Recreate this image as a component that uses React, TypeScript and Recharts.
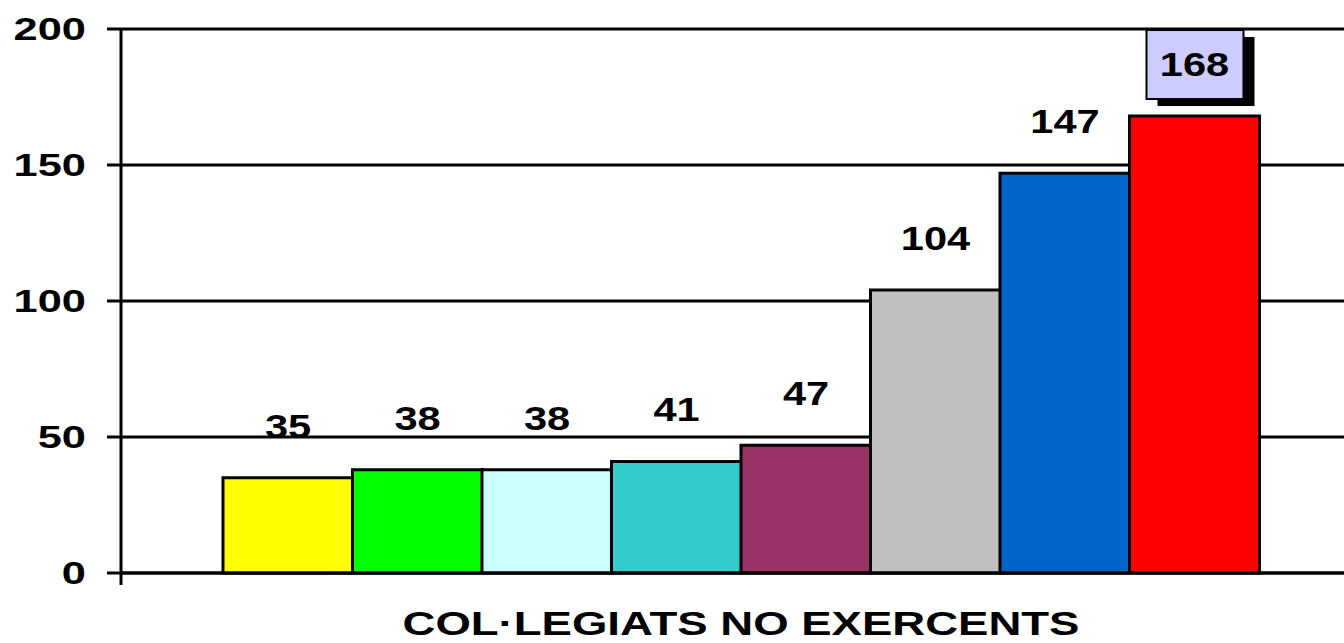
import React from "react";
import { BarChart, Bar, XAxis, YAxis, CartesianGrid, Cell, LabelList } from "recharts";

const categories = ["A", "B", "C", "D", "E", "F", "G", "H"];
const values = [35, 38, 38, 41, 47, 104, 147, 168];
const colors = ["#FFFF00", "#00FF00", "#CCFFFF", "#33CCCC", "#993366", "#C0C0C0", "#0066CC", "#FF0000"];
const yTicks = [0, 50, 100, 150, 200];
const axisTitle = "COL·LEGIATS NO EXERCENTS";

const data = categories.map((c, i) => ({ name: c, value: values[i] }));
const maxValue = Math.max(...values);

const FONT = "'Liberation Sans', Arial, Helvetica, sans-serif";
const TICK_SIZE = 14;
const TICK_MARGIN = 21;
const PAD_LEFT = 102;
const PAD_RIGHT = 85;

const YTick = (props: any) => {
  const { x, y, payload } = props;
  const axisX = x + TICK_SIZE + TICK_MARGIN;
  return (
    <g>
      {payload.value === 0 && (
        <line x1={axisX} x2={axisX} y1={y} y2={y + 12} stroke="#000" strokeWidth={3} />
      )}
      <text
        transform={`translate(${x},${y + 11}) scale(1.4,1)`}
        textAnchor="end"
        fontFamily={FONT}
        fontWeight="bold"
        fontSize={31}
        fill="#000"
      >
        {payload.value}
      </text>
    </g>
  );
};

const ValueLabel = (props: any) => {
  const { x, y, width, value } = props;
  const cx = x + width / 2;
  const cy = y - 52;
  const isMax = value === maxValue;
  return (
    <g>
      {isMax && (
        <g>
          <rect x={cx - 48 + 11} y={cy - 34 + 7} width={97} height={69} fill="#000" />
          <rect x={cx - 48} y={cy - 34} width={97} height={69} fill="#CCCCFF" stroke="#000" strokeWidth={2} />
        </g>
      )}
      <text
        transform={`translate(${cx},${cy + 12}) scale(1.26,1)`}
        textAnchor="middle"
        fontFamily={FONT}
        fontWeight="bold"
        fontSize={33}
        fill="#000"
      >
        {value}
      </text>
    </g>
  );
};

const TitleLabel = (props: any) => {
  const { viewBox } = props;
  const cx = viewBox.x + viewBox.width / 2 + (PAD_LEFT - PAD_RIGHT) / 2;
  return (
    <text
      transform={`translate(${cx},${635}) scale(1.38,1)`}
      textAnchor="middle"
      fontFamily={FONT}
      fontWeight="bold"
      fontSize={33}
      fill="#000"
    >
      {axisTitle}
    </text>
  );
};

export default function App() {
  return (
    <div style={{ position: "absolute", left: 0, top: 0, width: 1344, height: 643, background: "#fff" }}>
      <BarChart
        width={1344}
        height={643}
        data={data}
        margin={{ top: 29, right: 0, bottom: 0, left: 0 }}
        barCategoryGap={0}
      >
        <CartesianGrid vertical={false} stroke="#000" strokeWidth={3} />
        <XAxis
          dataKey="name"
          tick={false}
          tickLine={false}
          axisLine={{ stroke: "#000", strokeWidth: 3 }}
          height={70}
          padding={{ left: PAD_LEFT, right: PAD_RIGHT }}
          label={{ content: TitleLabel }}
        />
        <YAxis
          width={121}
          domain={[0, 200]}
          ticks={yTicks}
          interval={0}
          tickSize={TICK_SIZE}
          tickMargin={TICK_MARGIN}
          tickLine={{ stroke: "#000", strokeWidth: 3 }}
          axisLine={{ stroke: "#000", strokeWidth: 3 }}
          tick={YTick}
        />
        <Bar dataKey="value" isAnimationActive={false} stroke="#000" strokeWidth={3}>
          {data.map((d, i) => (
            <Cell key={d.name} fill={colors[i]} />
          ))}
          <LabelList dataKey="value" content={ValueLabel} />
        </Bar>
      </BarChart>
    </div>
  );
}
